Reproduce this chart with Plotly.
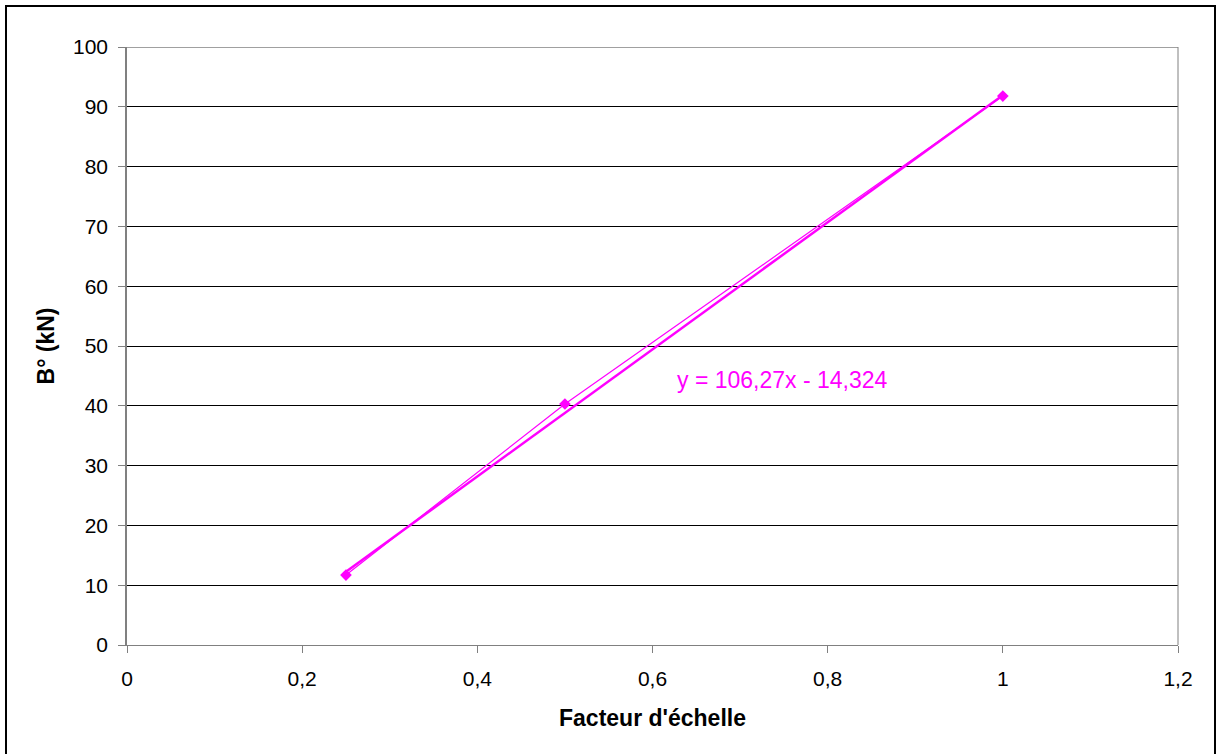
import plotly.graph_objects as go

# Data
facteur = [0.25, 0.5, 1.0]
b_kn = [11.7, 40.3, 91.8]
slope = 106.27
intercept = -14.324
trend_x = [0.25, 1.0]
trend_y = [slope * x + intercept for x in trend_x]
x_ticks = [0, 0.2, 0.4, 0.6, 0.8, 1.0, 1.2]
x_labels = ["0", "0,2", "0,4", "0,6", "0,8", "1", "1,2"]
y_ticks = list(range(0, 101, 10))

W, H = 1218, 754
L, R, T, B = 127, 40, 47, 109

FAM = "Liberation Sans, Arial, sans-serif"
tick_font = dict(family=FAM, size=21, color="black")
title_font = dict(family=FAM, size=23, color="black")

fig = go.Figure()
fig.add_trace(go.Scatter(x=trend_x, y=trend_y, mode="lines",
                         line=dict(color="#FF00FF", width=2.5), hoverinfo="skip"))
fig.add_trace(go.Scatter(x=facteur, y=b_kn, mode="lines+markers",
                         line=dict(color="#FF00FF", width=1.2),
                         marker=dict(symbol="diamond", size=9, color="#FF00FF")))

fig.update_layout(
    width=W, height=H,
    margin=dict(l=L, r=R, t=T, b=B),
    paper_bgcolor="white", plot_bgcolor="white",
    showlegend=False,
    font=tick_font,
    xaxis=dict(range=[0, 1.2], tickvals=x_ticks, ticktext=x_labels,
               showgrid=False, zeroline=False, showline=True, linecolor="#808080",
               linewidth=1, ticks="outside", ticklen=7, tickcolor="#808080",
               tickfont=tick_font, ticklabelstandoff=8,
               title=dict(text="<b>Facteur d'échelle</b>", font=title_font, standoff=20)),
    yaxis=dict(range=[0, 100], tickvals=y_ticks,
               showgrid=True, gridcolor="black", gridwidth=1, zeroline=False,
               showline=True, linecolor="#808080", linewidth=1.5,
               ticks="outside", ticklen=7, tickcolor="#808080", tickfont=tick_font,
               ticklabelstandoff=6,
               title=dict(text="<b>B° (kN)</b>", font=title_font, standoff=12)),
    annotations=[dict(x=0.748, y=44.3, xref="x", yref="y", text="y = 106,27x - 14,324",
                      showarrow=False, font=dict(family=FAM, size=23, color="#FF00FF"))],
    shapes=[
        dict(type="line", xref="paper", yref="y", x0=0, x1=1, y0=100, y1=100,
             line=dict(color="#808080", width=1.5)),
        dict(type="line", xref="paper", yref="y", x0=1, x1=1, y0=0, y1=100,
             line=dict(color="#808080", width=1)),
        dict(type="rect", xref="paper", yref="paper",
             x0=(6 - L) / (W - L - R), x1=(1215 - L) / (W - L - R),
             y0=-(757 - (H - B)) / (H - T - B), y1=1 + (T - 6) / (H - T - B),
             line=dict(color="black", width=2), layer="below"),
    ],
)

fig.write_html("out.html", config={"displayModeBar": False},
               post_script="document.body.style.margin='0px';document.body.style.overflow='hidden';")
